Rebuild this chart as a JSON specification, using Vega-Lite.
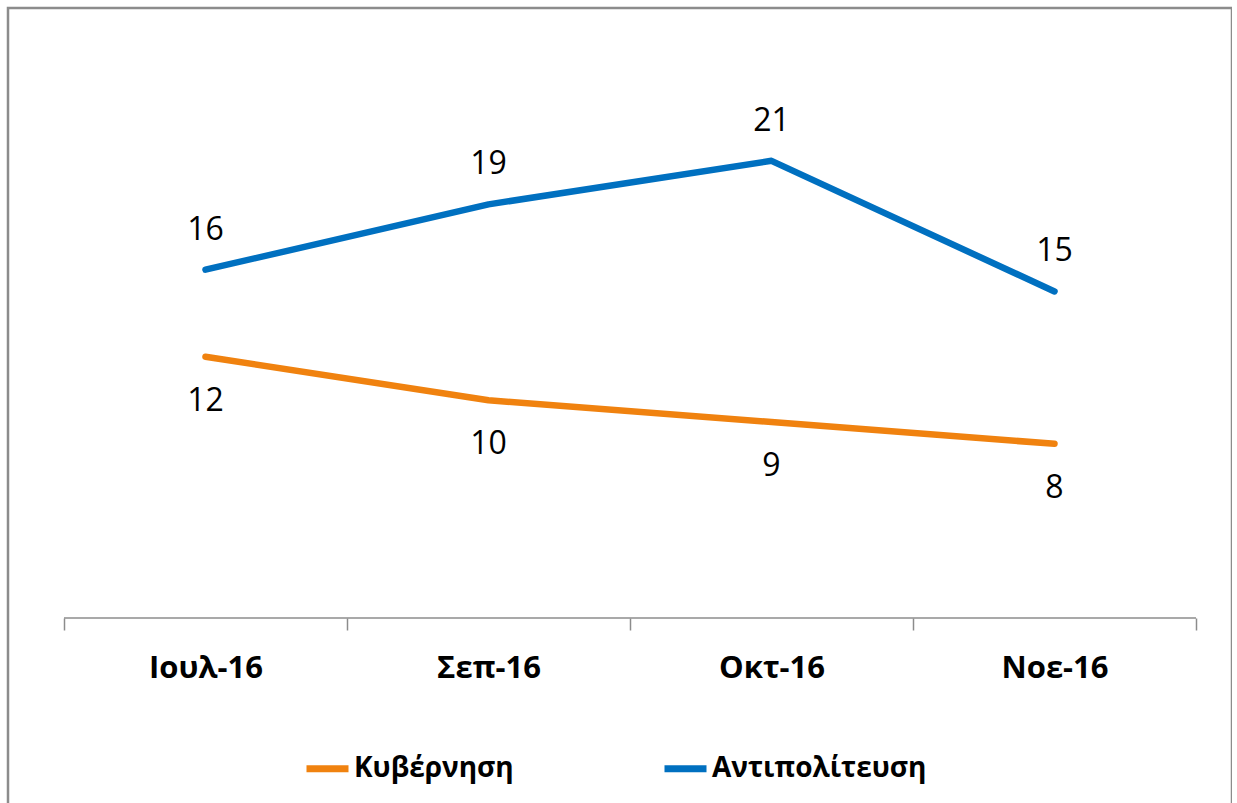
{
  "$schema": "https://vega.github.io/schema/vega-lite/v6.json",
  "autosize": "none",
  "width": 1224,
  "height": 800,
  "padding": {"left": 8, "top": 8, "right": 0, "bottom": 0},
  "background": "white",
  "config": {
    "view": {"stroke": "#8c8c8c", "strokeWidth": 2.5},
    "font": "Open Sans"
  },
  "data": {
    "values": [
      {"month": "Ιουλ-16", "series": "Κυβέρνηση", "value": 12},
      {"month": "Σεπ-16", "series": "Κυβέρνηση", "value": 10},
      {"month": "Οκτ-16", "series": "Κυβέρνηση", "value": 9},
      {"month": "Νοε-16", "series": "Κυβέρνηση", "value": 8},
      {"month": "Ιουλ-16", "series": "Αντιπολίτευση", "value": 16},
      {"month": "Σεπ-16", "series": "Αντιπολίτευση", "value": 19},
      {"month": "Οκτ-16", "series": "Αντιπολίτευση", "value": 21},
      {"month": "Νοε-16", "series": "Αντιπολίτευση", "value": 15}
    ]
  },
  "encoding": {
    "x": {
      "field": "month",
      "type": "nominal",
      "scale": {"type": "band", "domain": ["Ιουλ-16", "Σεπ-16", "Οκτ-16", "Νοε-16"], "paddingInner": 0, "paddingOuter": 0.1625, "align": 0.6087},
      "axis": {
        "title": null,
        "orient": "bottom",
        "offset": -190,
        "domain": false,
        "tickBand": "extent",
        "tickSize": 12,
        "tickColor": "#8c8c8c",
        "tickWidth": 1.5,
        "labelAngle": 0,
        "labelFont": "Open Sans",
        "labelFontWeight": "bold",
        "labelFontSize": 31,
        "labelColor": "#000000",
        "labelPadding": 23
      }
    },
    "y": {
      "field": "value",
      "type": "quantitative",
      "scale": {"domain": [-8.727, 28.02], "nice": false, "zero": false},
      "axis": null
    }
  },
  "layer": [
    {
      "data": {"values": [{"start": "Ιουλ-16", "end": "Νοε-16", "base": 0}]},
      "mark": {"type": "rule", "color": "#8c8c8c", "strokeWidth": 1.5},
      "encoding": {
        "x": {"field": "start", "type": "nominal", "bandPosition": 0, "scale": {"type": "band", "domain": ["Ιουλ-16", "Σεπ-16", "Οκτ-16", "Νοε-16"]}},
        "x2": {"field": "end", "bandPosition": 1},
        "y": {"field": "base", "type": "quantitative"}
      }
    },
    {
      "mark": {"type": "line", "strokeWidth": 6.5, "strokeCap": "round", "strokeJoin": "round"},
      "encoding": {
        "color": {
          "field": "series",
          "type": "nominal",
          "scale": {"domain": ["Κυβέρνηση", "Αντιπολίτευση"], "range": ["#F0820F", "#0070C0"]},
          "legend": {
            "title": null,
            "orient": "none",
            "legendX": 295,
            "legendY": 736,
            "direction": "horizontal",
            "columns": 2,
            "columnPadding": 136,
            "symbolType": "stroke",
            "symbolSize": 1764,
            "symbolStrokeWidth": 7,
            "labelOffset": 2,
            "labelLimit": 0,
            "labelFont": "Open Sans",
            "labelFontWeight": "bold",
            "labelFontSize": 28,
            "labelColor": "#000000"
          }
        }
      }
    },
    {
      "transform": [{"filter": "datum.series === 'Αντιπολίτευση'"}],
      "mark": {"type": "text", "dy": -40, "fontSize": 32, "font": "Open Sans", "color": "#000000"},
      "encoding": {"text": {"field": "value", "type": "quantitative"}}
    },
    {
      "transform": [{"filter": "datum.series === 'Κυβέρνηση'"}],
      "mark": {"type": "text", "dy": 44, "fontSize": 32, "font": "Open Sans", "color": "#000000"},
      "encoding": {"text": {"field": "value", "type": "quantitative"}}
    }
  ]
}
